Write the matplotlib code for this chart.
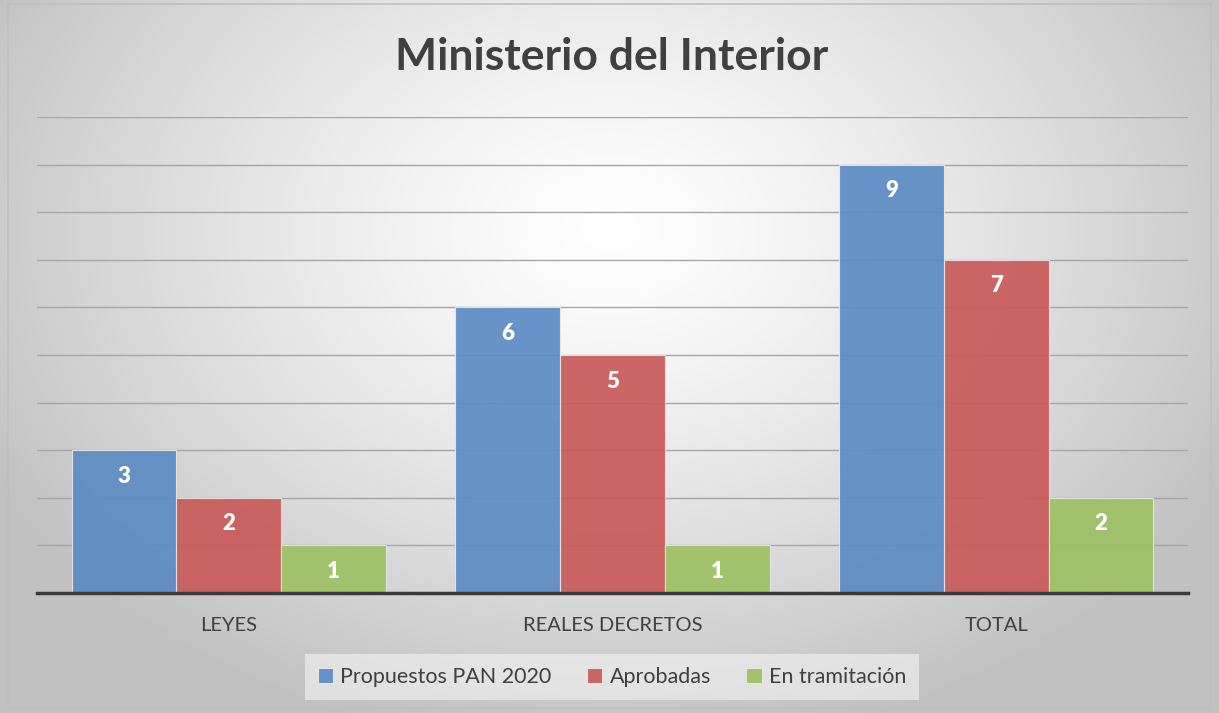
import numpy as np
import matplotlib.pyplot as plt
from matplotlib.patches import Rectangle

plt.rcParams['font.family'] = ['Lato', 'DejaVu Sans']

# datos
categorias = ['LEYES', 'REALES DECRETOS', 'TOTAL']
propuestos = [3, 6, 9]
aprobadas = [2, 5, 7]
en_tramitacion = [1, 1, 2]
series = ['Propuestos PAN 2020', 'Aprobadas', 'En tramitación']
colores = ['#5b8bc4', '#c85a59', '#9dc163']

W, H = 1219, 713
fig = plt.figure(figsize=(W / 100, H / 100), dpi=100)

# fondo con degradado radial
bg = fig.add_axes([0, 0, 1, 1], zorder=-10)
yy, xx = np.mgrid[0:H, 0:W]
r = np.sqrt(((xx - 610) / 700.0) ** 2 + ((yy - 230) / 520.0) ** 2)
val = np.clip(1.0 - 0.24 * r ** 1.3, 0.76, 1.0)
bg.imshow(np.dstack([val, val, val]), aspect='auto', extent=[0, W, H, 0])
bg.add_patch(Rectangle((8, 4), W - 16, H - 9, fill=False, edgecolor='#bfbfbf', lw=1.2))
bg.set_xlim(0, W)
bg.set_ylim(H, 0)
bg.axis('off')

ax = fig.add_axes([37 / W, (H - 593) / H, (1188 - 37) / W, (593 - 117) / H])
ax.patch.set_alpha(0)

x = np.arange(len(categorias))
ancho = 0.273
valores = [propuestos, aprobadas, en_tramitacion]
for i, (vals, nombre, c) in enumerate(zip(valores, series, colores)):
    pos = x + (i - 1) * ancho
    barras = ax.bar(pos, vals, ancho, color=c, alpha=0.92, edgecolor='#e8e8e8',
                    linewidth=0.8, label=nombre, zorder=3)
    for b, v in zip(barras, vals):
        ax.text(b.get_x() + b.get_width() / 2, v - 0.55, str(v), ha='center', va='center',
                color='white', fontsize=16, fontweight='heavy', zorder=4)

ax.set_xlim(-0.5, 2.5)
ax.set_ylim(0, 10)
ax.set_yticks(range(1, 11))
ax.yaxis.grid(True, color='#a6a6a6', linewidth=1.0, zorder=1)
ax.tick_params(axis='y', left=False, labelleft=False)
ax.tick_params(axis='x', bottom=False, pad=14)
ax.set_xticks(x)
ax.set_xticklabels(categorias, fontsize=14.5, color='#404040')
for s in ['top', 'right', 'left']:
    ax.spines[s].set_visible(False)
ax.spines['bottom'].set_color('#3a3a3a')
ax.spines['bottom'].set_linewidth(2.5)
ax.spines['bottom'].set_zorder(5)

fig.text(612 / W, 1 - 57 / H, 'Ministerio del Interior', ha='center', va='center',
         fontsize=32, fontweight='bold', color='#404040')

leg = fig.legend(loc='center', bbox_to_anchor=(612 / W, 1 - 677 / H), ncol=3,
                 frameon=True, fontsize=15.5, handlelength=0.7, handleheight=0.7,
                 handletextpad=0.35, columnspacing=1.65, borderpad=0.6, borderaxespad=0,
                 fancybox=False)
leg.get_frame().set_facecolor('#f4f4f4')
leg.get_frame().set_edgecolor('none')
leg.get_frame().set_alpha(0.6)
for t in leg.get_texts():
    t.set_color('#404040')

fig.savefig('out.png', dpi=100)
